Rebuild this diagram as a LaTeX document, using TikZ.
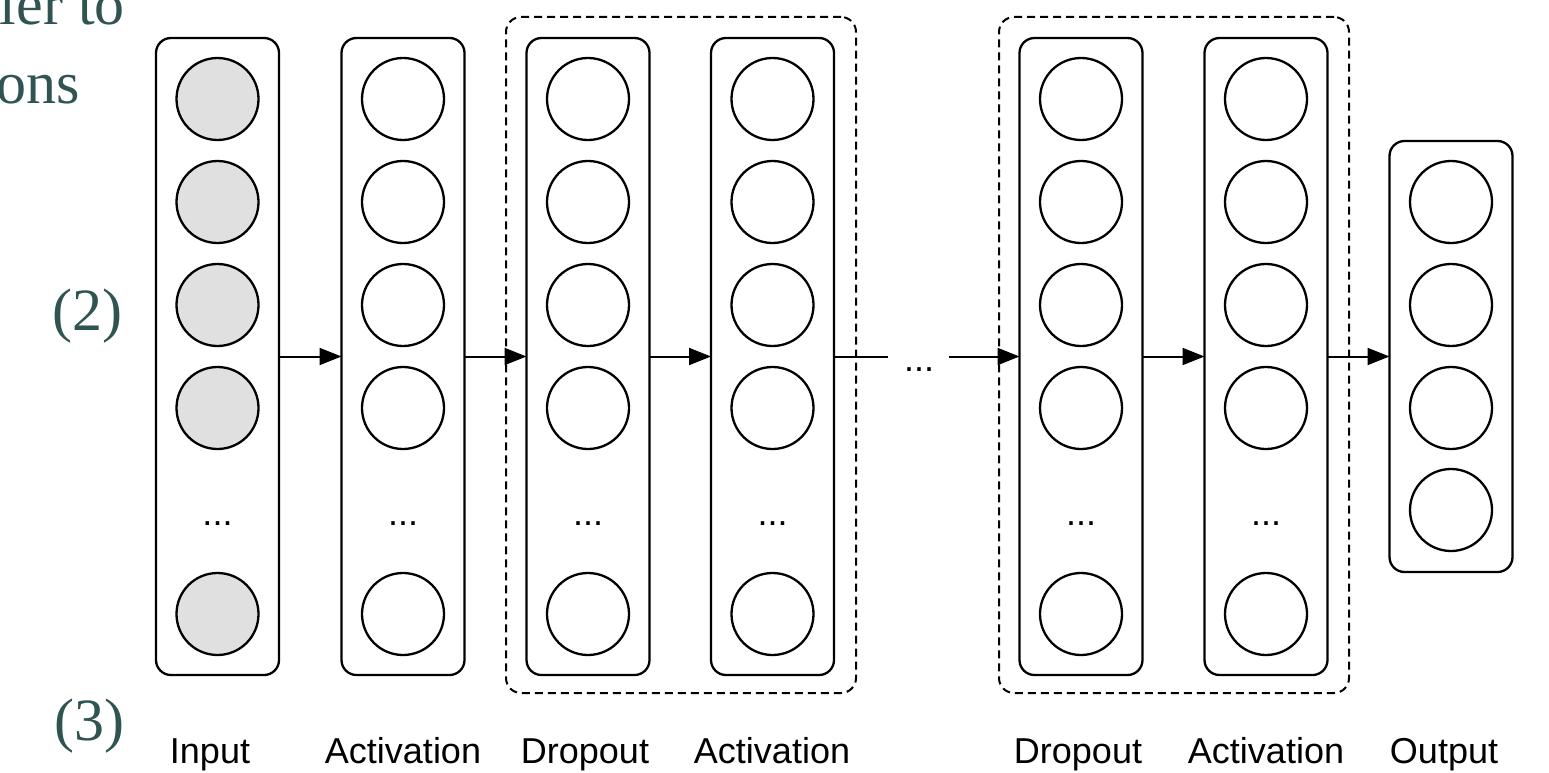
\documentclass[tikz,border=0pt]{standalone}
\usepackage{fontspec}
\setmainfont{Liberation Serif}
\setsansfont{Liberation Sans}
\usetikzlibrary{arrows.meta}
\definecolor{slideteal}{RGB}{47,84,82}
\definecolor{inputgray}{RGB}{224,224,224}
\begin{document}
\begin{tikzpicture}[x=1pt,y=-1pt,
  layerbox/.style={draw=black,line width=2.3pt,rounded corners=15pt,minimum width=123pt,inner sep=0pt,outer sep=0pt},
  groupbox/.style={draw=black,line width=2pt,dash pattern=on 8pt off 5pt,rounded corners=15pt,inner sep=0pt,outer sep=0pt,minimum width=350pt,minimum height=676pt},
  neuron/.style={circle,draw=black,line width=2.3pt,minimum size=82pt,inner sep=0pt,outer sep=0pt},
  inneuron/.style={neuron,fill=inputgray},
  dotsnode/.style={font=\sffamily\fontsize{36}{40}\selectfont,inner sep=0pt,anchor=base},
  lbl/.style={font=\sffamily\fontsize{36}{40}\selectfont,inner sep=0pt,anchor=base},
  slide/.style={font=\rmfamily\fontsize{60}{66}\selectfont,text=slideteal,inner sep=0pt,anchor=base east},
  conn/.style={line width=2pt,-{Triangle[length=22pt,width=17pt]}},
  plainconn/.style={line width=2pt}
]
\useasboundingbox (0,0) rectangle (1549,773);

% slide text fragments
\node[slide] (s1) at (125,25) {ler to};
\node[slide] (s2) at (80,104) {ons};
\node[slide] (s3) at (123,330) {(2)};
\node[slide] (s4) at (125,740) {(3)};

% dashed groups
\node[groupbox] (g1) at (681,355) {};
\node[groupbox] (g2) at (1174,355) {};

% layer boxes
\node[layerbox,minimum height=637pt] (b1) at (217.5,356.5) {};
\node[layerbox,minimum height=637pt] (b2) at (403,356.5) {};
\node[layerbox,minimum height=637pt] (b3) at (588,356.5) {};
\node[layerbox,minimum height=637pt] (b4) at (772.5,356.5) {};
\node[layerbox,minimum height=637pt] (b5) at (1081,356.5) {};
\node[layerbox,minimum height=637pt] (b6) at (1266,356.5) {};
\node[layerbox,minimum height=431pt] (b7) at (1451,356.5) {};

% neurons of input layer
\foreach \i/\y in {1/99,2/202,3/305,4/408,5/614}{
  \node[inneuron] (n1-\i) at (217.5,\y) {};
}
\node[dotsnode] (d1) at (217.5,525) {...};

% neurons of hidden layers
\foreach \c/\x in {2/403,3/588,4/772.5,5/1081,6/1266}{
  \foreach \i/\y in {1/99,2/202,3/305,4/408,5/614}{
    \node[neuron] (n\c-\i) at (\x,\y) {};
  }
  \node[dotsnode] (d\c) at (\x,525) {...};
}

% output neurons
\foreach \i/\y in {1/202,2/305,3/408,4/510}{
  \node[neuron] (n7-\i) at (1451,\y) {};
}

% connectors
\draw[conn] (b1.east) -- (b2.west);
\draw[conn] (b2.east) -- (b3.west);
\draw[conn] (b3.east) -- (b4.west);
\coordinate (midL) at (888,356.5);
\coordinate (midR) at (949,356.5);
\node[dotsnode] (mid) at (919,371) {...};
\draw[plainconn] (b4.east) -- (midL);
\draw[conn] (midR) -- (b5.west);
\draw[conn] (b5.east) -- (b6.west);
\draw[conn] (b6.east) -- (b7.west);

% labels
\node[lbl] (l1) at (210,763) {Input};
\node[lbl] (l2) at (403,763) {Activation};
\node[lbl] (l3) at (585,763) {Dropout};
\node[lbl] (l4) at (772,763) {Activation};
\node[lbl] (l5) at (1078,763) {Dropout};
\node[lbl] (l6) at (1266,763) {Activation};
\node[lbl] (l7) at (1444,763) {Output};
\end{tikzpicture}
\end{document}
